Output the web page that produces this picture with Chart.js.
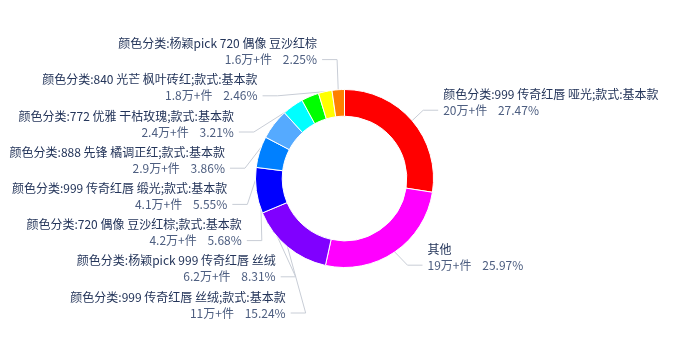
<!DOCTYPE html>
<html><head><meta charset="utf-8">
<script src="https://cdn.jsdelivr.net/npm/chart.js@4"></script>
<style>html,body{margin:0;padding:0;background:#fff}canvas{display:block}</style>
</head><body>
<canvas id="c" width="673" height="360"></canvas>
<script>
const categories = [
  '颜色分类:999 传奇红唇 哑光;款式:基本款',
  '其他',
  '颜色分类:999 传奇红唇 丝绒;款式:基本款',
  '颜色分类:杨颖pick 999 传奇红唇 丝绒',
  '颜色分类:720 偶像 豆沙红棕;款式:基本款',
  '颜色分类:999 传奇红唇 缎光;款式:基本款',
  '颜色分类:888 先锋 橘调正红;款式:基本款',
  '颜色分类:772 优雅 干枯玫瑰;款式:基本款',
  '颜色分类:840 光芒 枫叶砖红;款式:基本款',
  '颜色分类:杨颖pick 720 偶像 豆沙红棕'
];
const shares = [27.47, 25.97, 15.24, 8.31, 5.68, 5.55, 3.86, 3.21, 2.46, 2.25];
const counts = ['20万+件', '19万+件', '11万+件', '6.2万+件', '4.2万+件', '4.1万+件', '2.9万+件', '2.4万+件', '1.8万+件', '1.6万+件'];

const COLORS = ['#ff0000', '#ff00ff', '#8000ff', '#0000ff', '#0080ff', '#55aaff', '#00ffff', '#00ff00', '#ffff00', '#ff8000'];
const LEN1 = 16, LEN2 = 15, GAP = 5, LABEL_H = 36.2, NAME_OFF = 16;
const FONT = '12px "Noto Sans CJK SC", "Microsoft YaHei", sans-serif';
const NAME_COLOR = '#24355a', VALUE_COLOR = '#4d5e80', LINE_COLOR = '#c8cdd6';

function changeX(arr, isDown, cx, cy, r, dir) {
  let last = isDown ? Number.MAX_VALUE : 0;
  for (const it of arr) {
    const dy = Math.abs(it.y - cy);
    let d = dy < r + LEN1 ? Math.sqrt((r + LEN1 + LEN2) ** 2 - dy * dy) : Math.abs(it.x - cx);
    if (isDown && d >= last) d = last - 10;
    if (!isDown && d <= last) d = last + 10;
    it.x = cx + d * dir;
    last = d;
  }
}

function adjustSide(list, cx, cy, r, dir, top, bottom) {
  if (!list.length) return;
  list.sort((a, b) => a.y - b.y);
  for (let k = 1; k < list.length; k++) {
    if (list[k].y < list[k - 1].y + LABEL_H) list[k].y = list[k - 1].y + LABEL_H;
  }
  const n = list.length;
  if (list[n - 1].y > bottom) {
    list[n - 1].y = bottom;
    for (let k = n - 2; k >= 0; k--) {
      if (list[k].y > list[k + 1].y - LABEL_H) list[k].y = Math.max(top, list[k + 1].y - LABEL_H);
    }
  }
  changeX(list.filter(it => it.y < cy), false, cx, cy, r, dir);
  changeX(list.filter(it => it.y >= cy), true, cx, cy, r, dir);
}

function computeLayout(chart) {
  const meta = chart.getDatasetMeta(0);
  const total = shares.reduce((a, b) => a + b, 0);
  const items = [];
  let CX = 0, CY = 0, R = 0;
  meta.data.forEach((arc, i) => {
    const p = arc.getProps(['x', 'y', 'outerRadius', 'startAngle', 'endAngle'], true);
    const mid = (p.startAngle + p.endAngle) / 2;
    const dx = Math.cos(mid), dy = Math.sin(mid);
    const dir = dx < 0 ? -1 : 1;
    const x1 = p.x + p.outerRadius * dx, y1 = p.y + p.outerRadius * dy;
    const x2 = x1 + dx * LEN1, y2 = y1 + dy * LEN1;
    const x3 = x2 + dir * LEN2;
    CX = p.x; CY = p.y; R = p.outerRadius;
    items.push({
      i, dir, x1, y1, x: x3 + dir * GAP, y: y2,
      name: categories[i],
      value: counts[i] + '    ' + (shares[i] / total * 100).toFixed(2) + '%'
    });
  });
  const top = 20, bottom = chart.height - 47;
  adjustSide(items.filter(it => it.dir < 0), CX, CY, R, -1, top, bottom);
  adjustSide(items.filter(it => it.dir > 0), CX, CY, R, 1, top, bottom);
  return items;
}

const outerLabels = {
  id: 'outerLabels',
  beforeDatasetsDraw(chart) {
    const items = computeLayout(chart);
    chart.$labelItems = items;
    const ctx = chart.ctx;
    ctx.save();
    ctx.strokeStyle = LINE_COLOR;
    ctx.lineWidth = 1;
    items.forEach(it => {
      const endX = it.x - it.dir * GAP;
      const elbowX = endX - it.dir * LEN2;
      ctx.beginPath();
      ctx.moveTo(it.x1, it.y1);
      ctx.lineTo(elbowX, it.y);
      ctx.lineTo(endX, it.y);
      ctx.stroke();
    });
    ctx.restore();
  },
  afterDatasetsDraw(chart) {
    const items = chart.$labelItems || [];
    const ctx = chart.ctx;
    ctx.save();
    ctx.font = FONT;
    ctx.textBaseline = 'middle';
    items.forEach(it => {
      ctx.textAlign = it.dir < 0 ? 'right' : 'left';
      ctx.fillStyle = NAME_COLOR;
      ctx.fillText(it.name, it.x, it.y - NAME_OFF);
      ctx.fillStyle = VALUE_COLOR;
      ctx.fillText(it.value, it.x, it.y);
    });
    ctx.restore();
  }
};

new Chart(document.getElementById('c'), {
  type: 'doughnut',
  data: {
    labels: categories,
    datasets: [{
      data: shares,
      backgroundColor: COLORS,
      borderColor: '#ffffff',
      borderWidth: 1
    }]
  },
  options: {
    responsive: false,
    animation: false,
    devicePixelRatio: 1,
    cutout: '70%',
    layout: { padding: { left: 255, right: 239, top: 89, bottom: 92 } },
    plugins: { legend: { display: false }, tooltip: { enabled: false } }
  },
  plugins: [outerLabels]
});
</script>
</body></html>
